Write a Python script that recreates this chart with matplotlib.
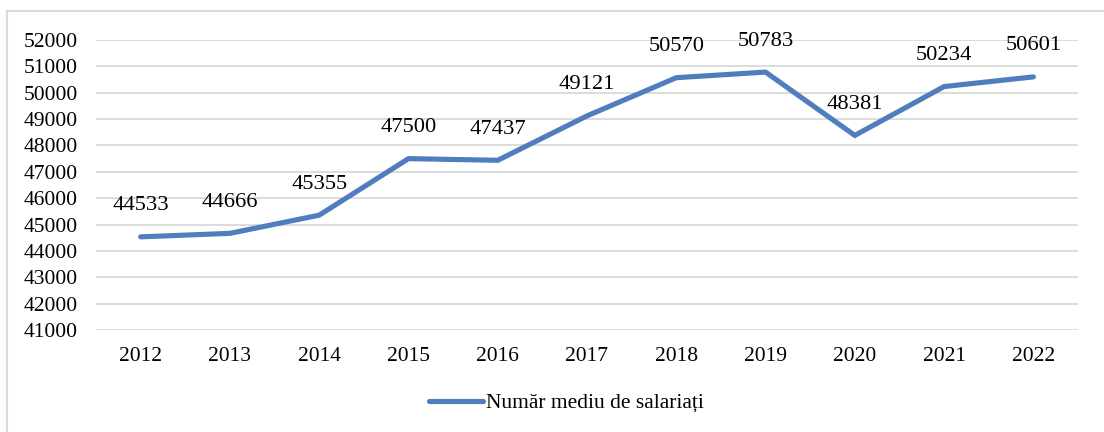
import matplotlib.pyplot as plt
from matplotlib.patches import Rectangle

years = ['2012', '2013', '2014', '2015', '2016', '2017', '2018', '2019', '2020', '2021', '2022']
employees = [44533, 44666, 45355, 47500, 47437, 49121, 50570, 50783, 48381, 50234, 50601]
series_name = 'Număr mediu de salariați'
y_ticks = list(range(41000, 52001, 1000))

plt.rcParams['font.family'] = ['Liberation Serif', 'DejaVu Serif']
plt.rcParams['font.size'] = 15

fig = plt.figure(figsize=(11.04, 4.32), dpi=100)
# outer chart border (light gray frame)
fig.patches.append(Rectangle((7 / 1104, -0.1), 1.2, 0.1 + (432 - 11) / 432,
                             transform=fig.transFigure, fill=False,
                             edgecolor='#d9d9d9', linewidth=1.5))

ax = fig.add_axes([96 / 1104, 1 - 330 / 432, (1078 - 96) / 1104, 290 / 432])
x = list(range(len(years)))
ax.plot(x, employees, color='#4F7DBE', linewidth=3.7, solid_capstyle='round',
        solid_joinstyle='miter', label=series_name)

for xi, v in zip(x, employees):
    ax.annotate(str(v), (xi, v), xytext=(0, 31), textcoords='offset pixels',
                ha='center', va='center', fontsize=16.2)

ax.set_xlim(-0.5, len(years) - 0.5)
ax.set_ylim(41000, 52000)
ax.set_yticks(y_ticks)
ax.set_yticklabels([str(t) for t in y_ticks])
ax.set_xticks(x)
ax.set_xticklabels(years)
ax.grid(axis='y', color='#d9d9d9', linewidth=1.3)
ax.set_axisbelow(True)
for s in ax.spines.values():
    s.set_visible(False)
ax.tick_params(axis='both', length=0, labelsize=15.5)
ax.tick_params(axis='y', pad=13)
ax.tick_params(axis='x', pad=12)

fig.legend(loc='center', bbox_to_anchor=(566 / 1104, 1 - 403 / 432), frameon=False,
           handlelength=2.55, handletextpad=0.1, fontsize=15.5)

fig.savefig('out.png', dpi=100)
